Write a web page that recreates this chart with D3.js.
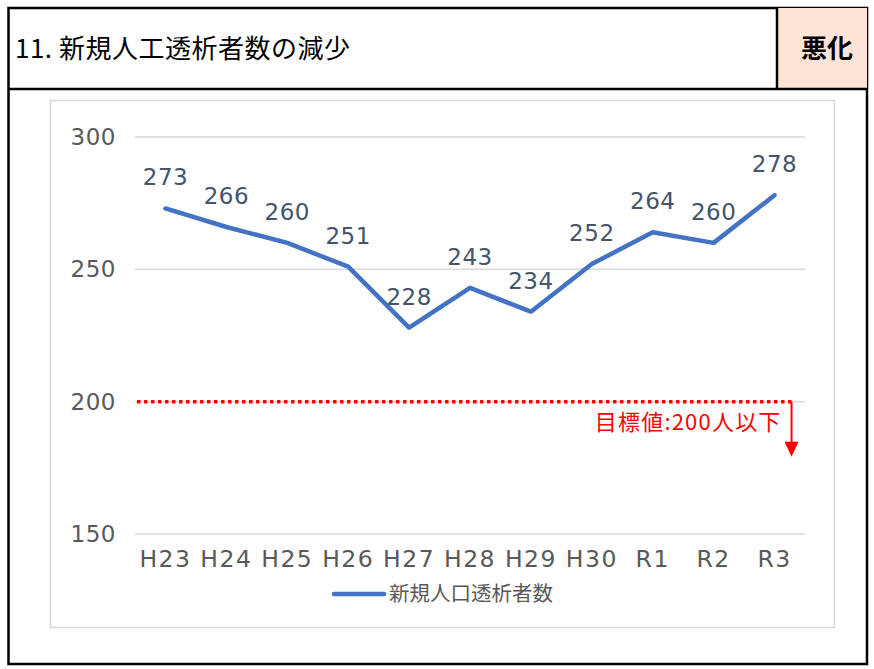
<!DOCTYPE html>
<html>
<head>
<meta charset="utf-8">
<script src="https://cdn.jsdelivr.net/npm/d3@7"></script>
<style>
  body { margin: 0; background: #fff; }
  svg { display: block; }
</style>
</head>
<body>
<script>
// chart data
const years = ["H23", "H24", "H25", "H26", "H27", "H28", "H29", "H30", "R1", "R2", "R3"];
const patients = [273, 266, 260, 251, 228, 243, 234, 252, 264, 260, 278];
const yTicks = [150, 200, 250, 300];
const target = 200;
const titleText = "11. 新規人工透析者数の減少";
const badgeText = "悪化";
const seriesName = "新規人口透析者数";
const targetText = "目標値:200人以下";

const W = 874, H = 669;
const jp = "'Noto Sans CJK JP', 'Noto Sans', sans-serif";
const num = "'DejaVu Sans', sans-serif";

const svg = d3.select('body').append('svg')
  .attr('width', W)
  .attr('height', H);

// outer frame + header
svg.append('rect')
  .attr('x', 8.5).attr('y', 8).attr('width', 858.5).attr('height', 656)
  .attr('fill', '#fff').attr('stroke', '#000').attr('stroke-width', 2.5);

svg.append('rect')
  .attr('x', 777).attr('y', 8).attr('width', 90).attr('height', 81)
  .attr('fill', '#fde4d7');

svg.append('line')
  .attr('x1', 777).attr('x2', 777).attr('y1', 8).attr('y2', 89)
  .attr('stroke', '#000').attr('stroke-width', 2.5);
svg.append('line')
  .attr('x1', 8).attr('x2', 867).attr('y1', 89).attr('y2', 89)
  .attr('stroke', '#000').attr('stroke-width', 2.5);

svg.append('text')
  .attr('x', 15).attr('y', 58)
  .attr('font-family', jp).attr('font-size', 26)
  .attr('letter-spacing', 0.5)
  .attr('fill', '#000')
  .text(titleText);

svg.append('text')
  .attr('x', 827).attr('y', 58)
  .attr('text-anchor', 'middle')
  .attr('font-family', jp).attr('font-size', 26).attr('font-weight', 'bold')
  .attr('fill', '#000')
  .text(badgeText);

// chart area box
svg.append('rect')
  .attr('x', 50.5).attr('y', 100.5).attr('width', 784).attr('height', 527)
  .attr('fill', '#fff').attr('stroke', '#d9d9d9').attr('stroke-width', 1.5);

// scales
const xScale = d3.scaleBand()
  .domain(years)
  .range([135, 805]);

const yScale = d3.scaleLinear()
  .domain([150, 300])
  .range([534, 137]);

// gridlines
svg.append('g')
  .selectAll('line')
  .data(yTicks)
  .enter()
  .append('line')
  .attr('x1', 135).attr('x2', 805)
  .attr('y1', d => yScale(d)).attr('y2', d => yScale(d))
  .attr('stroke', '#d9d9d9').attr('stroke-width', 1.5);

// y axis
const yAxis = d3.axisLeft(yScale).tickValues(yTicks).tickSize(0).tickPadding(19);
const yAxisGroup = svg.append('g')
  .attr('transform', 'translate(135,0)')
  .call(yAxis);
yAxisGroup.select('.domain').remove();
yAxisGroup.selectAll('text')
  .attr('font-family', num).attr('font-size', 23)
  .attr('letter-spacing', 0.5)
  .attr('fill', '#595959');

// x axis
const xAxis = d3.axisBottom(xScale).tickSize(0).tickPadding(16);
const xAxisGroup = svg.append('g')
  .attr('transform', 'translate(0,534)')
  .call(xAxis);
xAxisGroup.select('.domain').remove();
xAxisGroup.selectAll('text')
  .attr('font-family', num).attr('font-size', 23.5)
  .attr('letter-spacing', 1.5)
  .attr('fill', '#595959');

// target line
const tx = xScale('R3') + xScale.bandwidth() / 2 + 17;
svg.append('line')
  .attr('x1', 137).attr('x2', tx)
  .attr('y1', yScale(target)).attr('y2', yScale(target))
  .attr('stroke', '#ff0000').attr('stroke-width', 3.5)
  .attr('stroke-dasharray', '3.5,3.5');

svg.append('line')
  .attr('x1', tx).attr('x2', tx)
  .attr('y1', yScale(target)).attr('y2', yScale(target) + 42)
  .attr('stroke', '#ff0000').attr('stroke-width', 2);
svg.append('path')
  .attr('d', `M${tx - 7},${yScale(target) + 40} L${tx + 7},${yScale(target) + 40} L${tx},${yScale(target) + 55} Z`)
  .attr('fill', '#ff0000');

svg.append('text')
  .attr('x', tx - 10).attr('y', yScale(target) + 28)
  .attr('text-anchor', 'end')
  .attr('font-family', jp).attr('font-size', 22)
  .attr('letter-spacing', 1.2)
  .attr('fill', '#ff0000')
  .text(targetText);

// series line
const line = d3.line()
  .x((d, i) => xScale(years[i]) + xScale.bandwidth() / 2)
  .y(d => yScale(d));

svg.append('path')
  .datum(patients)
  .attr('d', line)
  .attr('fill', 'none')
  .attr('stroke', '#4472c4')
  .attr('stroke-width', 4.5)
  .attr('stroke-linejoin', 'round')
  .attr('stroke-linecap', 'round');

// data labels
svg.append('g')
  .selectAll('text')
  .data(patients)
  .enter()
  .append('text')
  .attr('x', (d, i) => xScale(years[i]) + xScale.bandwidth() / 2)
  .attr('y', d => yScale(d) - 23)
  .attr('text-anchor', 'middle')
  .attr('font-family', num).attr('font-size', 23)
  .attr('letter-spacing', 0.5)
  .attr('fill', '#44546a')
  .text(d => d);

// legend
svg.append('line')
  .attr('x1', 334).attr('x2', 384)
  .attr('y1', 594).attr('y2', 594)
  .attr('stroke', '#4472c4').attr('stroke-width', 4.5)
  .attr('stroke-linecap', 'round');
svg.append('text')
  .attr('x', 389).attr('y', 601)
  .attr('font-family', jp).attr('font-size', 20.5)
  .attr('fill', '#595959')
  .text(seriesName);
</script>
</body>
</html>
